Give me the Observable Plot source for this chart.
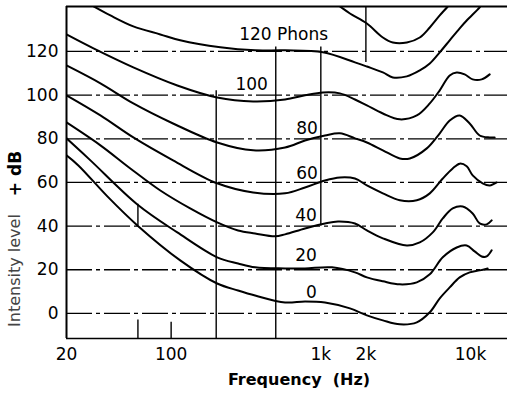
<!DOCTYPE html>
<html><head><meta charset="utf-8">
<script src="https://cdn.jsdelivr.net/npm/d3@7"></script>
<script src="https://cdn.jsdelivr.net/npm/@observablehq/plot@0.6"></script>
<style>
html,body{margin:0;padding:0;background:#fff;}
#chart svg{display:block;}
</style></head><body><div id="chart"></div>
<script>
// Equal-loudness contours: [frequency Hz, intensity level dB]
const phon0 = [[20,72.4],[24,67.8],[37.5,53.6],[59.5,40.3],[115,24.3],[203,13.7],[280,10.5],[364,8.2],[577,5.0],[784,5.5],[1066,5.0],[1565,2.3],[2031,-0.9],[2597,-3.2],[3371,-5.0],[4376,-4.1],[5343,0.5],[6229,6.9],[7260,11.9],[8465,16.5],[9871,18.8],[11510,19.7],[13017,20.6]];
const phon20 = [[20,80.2],[28.9,70.1],[59.5,49.9],[110,37.1],[203,25.7],[280,22.9],[364,21.1],[577,20.6],[784,20.6],[1187,21.1],[1690,18.8],[2031,16.5],[2597,14.7],[3371,13.3],[4376,14.2],[5343,17.9],[6523,25.7],[8082,30.2],[9427,31.1],[10660,28.4],[11871,26.1],[12818,26.1],[13843,28.9]];
const phon40 = [[20,87.5],[33.7,77.0],[53.4,66.4],[84.7,56.3],[134,48.1],[203,41.7],[280,38.0],[364,36.6],[495,35.3],[577,36.2],[784,38.9],[1066,41.2],[1302,42.1],[1690,41.2],[2031,38.0],[2597,34.4],[3754,31.1],[4582,32.5],[5595,37.1],[6523,43.5],[7602,48.1],[8864,49.0],[10336,45.8],[11510,41.2],[12818,40.8],[13843,42.6]];
const phon60 = [[20,99.9],[33.7,90.7],[55.9,80.6],[103,70.1],[203,59.6],[353,55.4],[577,55.0],[784,57.7],[1066,60.9],[1342,62.3],[1690,61.8],[2031,58.6],[2597,55.0],[3371,51.8],[4376,51.8],[5343,55.0],[6523,61.8],[7602,66.4],[8465,68.6],[9427,67.4],[10336,63.2],[12053,59.6],[13424,58.6],[14946,60.0]];
const phon80 = [[20,113.6],[33.7,105.4],[55.9,96.2],[103,87.0],[203,78.3],[353,74.7],[577,76.0],[784,79.2],[1066,81.5],[1342,82.5],[1690,80.2],[2031,78.3],[2597,74.7],[3371,71.0],[3931,71.0],[5103,75.6],[6229,82.5],[7260,88.4],[8465,90.7],[9871,87.0],[11510,81.5],[13424,80.6],[14496,80.6]];
const phon100 = [[20,127.8],[30.3,121.4],[55.9,112.7],[110,104.4],[203,98.9],[353,97.1],[577,98.0],[784,99.9],[1034,101.2],[1342,100.8],[1690,98.0],[2031,95.3],[2597,91.6],[3371,88.9],[4376,90.7],[5343,96.2],[6229,102.2],[7260,109.0],[8082,110.4],[9141,109.5],[10336,107.2],[11871,107.2],[13424,109.5]];
const phon120 = [[28,142],[39.3,136.5],[55.9,131.5],[84.7,127.8],[115,125.1],[213,121.9],[364,120.5],[577,120.5],[1034,119.6],[1690,115.0],[2031,113.1],[2597,110.4],[3027,108.1],[3754,108.6],[4582,111.3],[5343,114.5],[6229,119.6],[7260,125.1],[8465,130.6],[9427,134.2],[11510,140.2],[12000,142]];
const phonTop = [[1250,142],[1342,140.6],[1565,137.4],[2031,132.8],[2597,126.4],[3027,124.1],[3754,124.1],[4582,126.4],[5343,131.0],[6229,136.5],[7044,140.6],[7300,142]];

const curveNames = ["0","20","40","60","80","100","120","top"];
const curvePoints = [phon0, phon20, phon40, phon60, phon80, phon100, phon120, phonTop];

// Curve labels
const labelText = ["120 Phons","100","80","60","40","20","0"];
const labelFreq = [564,345,809,809,796,796,866];
const labelDb = [127.6,104.9,84.5,64.1,44.9,26.6,9.6];

// Axes
const xTickValues = [20,100,500,1000,2000,5000,10000];
const xTickLabels = ["20","100","500","1k","2k","5k","10k"];
const yTickValues = [0,20,40,60,80,100,120];
const xDomain = [20, 17660];
const yDomain = [-11.5, 140.6];

// Vertical grid segments: frequency, from dB, to dB
const vGridFreq = [60, 60, 100, 200, 500, 1000, 2000];
const vGridLo = [40, -11.5, -11.5, -11.5, -11.5, 40, 115];
const vGridHi = [50, -3, -4, 102, 122, 122, 140.6];

const rows = curvePoints.flatMap((pts, i) => pts.map(([f, db]) => ({level: curveNames[i], f, db})));
const labels = labelText.map((t, i) => ({t, f: labelFreq[i], db: labelDb[i]}));
const vGrid = vGridFreq.map((f, i) => ({f, lo: vGridLo[i], hi: vGridHi[i]}));
const fmt = new Map(xTickValues.map((v, i) => [v, xTickLabels[i]]));

const font = "DejaVu Sans, Verdana, sans-serif";

const chart = Plot.plot({
  width: 507,
  height: 396,
  marginLeft: 66,
  marginRight: 0,
  marginTop: 6,
  marginBottom: 58,
  style: {fontFamily: font, fontSize: "17px", color: "black", background: "white"},
  x: {type: "log", domain: xDomain, ticks: xTickValues, tickFormat: d => fmt.get(d) ?? "", tickSize: 0, tickPadding: 9, label: null},
  y: {domain: yDomain, ticks: yTickValues, tickSize: 0, tickPadding: 8, label: null},
  marks: [
    Plot.ruleY(yTickValues, {stroke: "black", strokeWidth: 1.3, strokeDasharray: "26,4,4,4"}),
    Plot.ruleX(vGrid, {x: "f", y1: "lo", y2: "hi", stroke: "black", strokeWidth: 1.4}),
    Plot.ruleX([xDomain[0]], {y1: yDomain[0], y2: yDomain[1], stroke: "black", strokeWidth: 2}),
    Plot.ruleY([yDomain[1]], {stroke: "black", strokeWidth: 2}),
    Plot.ruleY([yDomain[0]], {stroke: "black", strokeWidth: 1.6}),
    Plot.line(rows, {x: "f", y: "db", z: "level", stroke: "black", strokeWidth: 2, curve: "catmull-rom", clip: true}),
    Plot.text(labels, {x: "f", y: "db", text: "t", fontSize: 17, fill: "black"}),
    Plot.text(["Frequency  (Hz)"], {frameAnchor: "bottom", textAnchor: "middle", lineAnchor: "middle", dy: 41, dx: 12, fontSize: 16, fontWeight: "bold", fill: "black"}),
    Plot.text(["+ dB"], {frameAnchor: "left", textAnchor: "middle", lineAnchor: "middle", dx: -51, dy: 1, rotate: -90, fontSize: 17, fontWeight: "bold", fill: "black"}),
    Plot.text(["Intensity level"], {frameAnchor: "left", textAnchor: "middle", lineAnchor: "middle", dx: -52, dy: 98, rotate: -90, fontSize: 16, fill: "#444"})
  ]
});
document.getElementById("chart").appendChild(chart);
</script></body></html>
